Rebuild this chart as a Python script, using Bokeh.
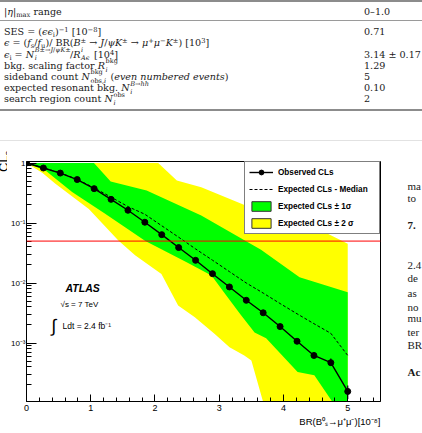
from bokeh.plotting import figure
from bokeh.models import Range1d, FixedTicker, Label, Legend, LegendItem, Span, Div, Title
from bokeh.layouts import column, row
from bokeh.embed import file_html
from bokeh.resources import INLINE

# ---------------- data ----------------
br_points = [0.0, 0.263, 0.526, 0.789, 1.053, 1.316, 1.579, 1.842, 2.105, 2.368,
             2.632, 2.895, 3.158, 3.421, 3.684, 3.947, 4.211, 4.474, 4.737, 5.0]
cls_observed = [1.0, 0.826, 0.68, 0.53, 0.374, 0.248, 0.163, 0.103, 0.064, 0.039,
                0.0239, 0.0143, 0.0086, 0.00515, 0.00319, 0.00188, 0.00107, 0.00062, 0.00047, 0.000156]
cls_obs_err_lo = [1.0, 0.826, 0.68, 0.53, 0.374, 0.248, 0.163, 0.103, 0.064, 0.039,
                  0.0239, 0.0143, 0.0086, 0.00515, 0.00319, 0.00188, 0.00100, 0.00058, 0.00042, 0.000117]
cls_obs_err_hi = [1.0, 0.826, 0.68, 0.53, 0.374, 0.248, 0.163, 0.103, 0.064, 0.039,
                  0.0239, 0.0143, 0.0086, 0.00515, 0.00319, 0.00188, 0.00114, 0.00070, 0.00055, 0.000196]
cls_exp_median = [1.0, 0.83, 0.685, 0.535, 0.385, 0.27, 0.188, 0.14, 0.09, 0.058,
                  0.037, 0.024, 0.0155, 0.0100, 0.0068, 0.00455, 0.00307, 0.0021, 0.00145, 0.00062]

# expected +-1 sigma band edges
band1_up_br = [0.0, 1.05, 1.31, 1.87, 2.72, 3.65, 4.25, 5.0]
band1_up = [1.0, 1.0, 0.49, 0.348, 0.133, 0.036, 0.0125, 0.0070]
band1_dn_br = [0.0, 0.3, 0.71, 1.23, 1.85, 2.5, 2.88, 3.11, 3.34, 3.55, 3.73, 4.22, 4.48, 4.76, 4.8, 5.0]
band1_dn = [1.0, 0.74, 0.33, 0.142, 0.05, 0.022, 0.0133, 0.0062, 0.0029, 0.0015, 0.0012,
            0.00033, 0.00029, 0.000105, 0.00001, 0.00001]
# expected +-2 sigma band edges
band2_up_br = [0.0, 2.05, 2.34, 2.72, 3.44, 4.69, 5.0]
band2_up = [1.0, 1.0, 0.51, 0.395, 0.19, 0.066, 0.045]
band2_dn_br = [0.0, 0.25, 0.45, 0.97, 1.43, 1.69, 2.10, 2.36, 2.62, 2.93, 3.16, 3.39, 3.50, 3.70, 5.0]
band2_dn = [1.0, 0.68, 0.45, 0.172, 0.051, 0.029, 0.0142, 0.0042, 0.00269, 0.00142, 0.00085,
            0.00062, 0.00051, 0.00009, 0.00001]
cls_limit = 0.05

x_major_ticks = [0, 1, 2, 3, 4, 5]
x_minor_ticks = [0.2, 0.4, 0.6, 0.8, 1.2, 1.4, 1.6, 1.8, 2.2, 2.4, 2.6, 2.8, 3.2, 3.4, 3.6, 3.8,
                 4.2, 4.4, 4.6, 4.8, 5.2, 5.4]
y_major_ticks = [0.001, 0.01, 0.1, 1.0]
y_major_labels = ["10⁻³", "10⁻²", "10⁻¹", "1"]
y_minor_ticks = [m * d for d in (1e-4, 1e-3, 1e-2, 1e-1) for m in (2, 3, 4, 5, 6, 7, 8, 9)]

legend_labels = ["Observed CLs", "Expected CLs - Median", "Expected CLs ± 1σ", "Expected CLs ± 2 σ"]
x_title = "BR(B⁰ₛ→μ⁺μ⁻)[10⁻⁸]"
y_title_html = 'CL<span style="font-size:0.7em;position:relative;top:0.3em">s</span>'


# ---- small HTML helpers for the table's math ----
def sp(t):
    return f'<span style="position:relative;top:-0.45em;font-size:0.7em">{t}</span>'


def sb(t):
    return f'<span style="position:relative;top:0.3em;font-size:0.7em">{t}</span>'


def supsub(sup, sub, w):
    return (f'<span style="position:relative;display:inline-block;width:{w}em;height:1px;'
            'font-size:0.68em;line-height:1;margin-left:0.1em">'
            f'<span style="position:absolute;left:0;bottom:0.6em;white-space:nowrap">{sup}</span>'
            f'<span style="position:absolute;left:0;bottom:-0.65em;white-space:nowrap">{sub}</span></span>')


table_quantities = [
    f'|<i>η</i>|{sb("max")} range',
    f'SES = (<i>ϵϵ</i>{sb("i")}){sp("−1")} [10{sp("−8")}]',
    f'<i>ϵ</i> = (<i>f</i>{sb("s")}/<i>f</i>{sb("u")})/ BR(<i>B</i>{sp("±")} → <i>J</i>/<i>ψK</i>{sp("±")}'
    f' → <i>μ</i>{sp("+")}<i>μ</i>{sp("−")}<i>K</i>{sp("±")}) [10{sp("3")}]',
    f'<i>ϵ</i>{sb("i")} = <i>N</i>' + supsub('<i>B</i>±→<i>J</i>/<i>ψK</i>±', '<i>i</i>', 5.4)
    + '/<i>R</i>' + supsub('<i>i</i>', '<i>Aϵ</i>', 1.5) + f' [10{sp("4")}]',
    'bkg. scaling factor <i>R</i>' + supsub('bkg', '<i>i</i>', 2.0),
    'sideband count <i>N</i>' + supsub('bkg', 'obs,<i>i</i>', 2.6) + ' (<i>even numbered events</i>)',
    'expected resonant bkg. <i>N</i>' + supsub('<i>B</i>→<i>hh</i>', '<i>i</i>', 3.0),
    'search region count <i>N</i>' + supsub('obs', '<i>i</i>', 1.9),
]
table_values = ["0–1.0", "0.71", "", "3.14 ± 0.17", "1.29", "5", "0.10", "2"]

body_fragments = ["ma", "to", "7.", "2.4", "de", "as", "no", "mu", "ter", "BR", "Ac"]
body_fragment_bold = [False, False, True, False, False, False, False, False, False, False, True]

# ---------------- table (top part of the page) ----------------
TABLE_H = 142
row_y = [11.7] + [32.3 + 11.15 * k for k in range(len(table_quantities) - 1)]
parts = [f'<div style="position:relative;width:422px;height:{TABLE_H}px;overflow:hidden;'
         'font-family:\'DejaVu Serif\';font-size:9.6px;color:#1a1a1a;background:white">']
parts.append('<div style="position:absolute;left:0;top:0;width:422px;height:2px;background:#8c8c8c"></div>')
parts.append('<div style="position:absolute;left:0;top:20px;width:422px;height:1px;background:#9a9a9a"></div>')
parts.append('<div style="position:absolute;left:0;top:109px;width:422px;height:2px;background:#8c8c8c"></div>')
parts.append('<div style="position:absolute;left:0;top:140px;width:422px;height:1px;background:#e2e2e2"></div>')
for yc, q, v in zip(row_y, table_quantities, table_values):
    parts.append(f'<div style="position:absolute;left:4px;top:{yc - 7:.1f}px;height:14px;line-height:14px;'
                 f'white-space:nowrap">{q}</div>')
    if v:
        parts.append(f'<div style="position:absolute;left:364px;top:{yc - 7:.1f}px;height:14px;line-height:14px;'
                     f'white-space:nowrap">{v}</div>')
parts.append('</div>')
table_div = Div(text="".join(parts), width=422, height=TABLE_H, margin=0)

# ---------------- CLs plot ----------------
PH = 291
p = figure(width=375, height=PH, x_range=Range1d(0, 5.51), y_range=Range1d(1.06e-4, 1.06),
           y_axis_type="log", output_backend="svg", toolbar_location=None,
           min_border_left=17, min_border_right=2, min_border_top=19, min_border_bottom=32)
p.grid.visible = False
p.outline_line_color = "black"
p.outline_line_width = 1
p.background_fill_color = "white"
p.border_fill_color = "white"

p.patch(band2_up_br + band2_dn_br[::-1], band2_up + band2_dn[::-1], fill_color="#ffff00", line_alpha=0)
p.patch(band1_up_br + band1_dn_br[::-1], band1_up + band1_dn[::-1], fill_color="#00ff00", line_alpha=0)

p.add_layout(Span(location=cls_limit, dimension="width", line_color="#ff0000", line_width=1))

r_med = p.line(br_points, cls_exp_median, line_color="black", line_width=1, line_dash="3 2")
p.segment(br_points, cls_obs_err_lo, br_points, cls_obs_err_hi, line_color="black", line_width=1.2)
r_obs_line = p.line(br_points, cls_observed, line_color="black", line_width=1.4)
r_obs_pts = p.scatter(br_points, cls_observed, size=6, fill_color="black", line_color="black")

# legend proxies (outside the visible x range, only used to draw bordered boxes in the legend)
leg_g = p.quad(left=[-1.0], right=[-0.5], top=[0.02], bottom=[0.01],
               fill_color="#00ff00", line_color="#333333", line_width=1)
leg_y = p.quad(left=[-1.0], right=[-0.5], top=[0.02], bottom=[0.01],
               fill_color="#ffff00", line_color="#333333", line_width=1)

legend = Legend(items=[
    LegendItem(label=legend_labels[0], renderers=[r_obs_line, r_obs_pts]),
    LegendItem(label=legend_labels[1], renderers=[r_med]),
    LegendItem(label=legend_labels[2], renderers=[leg_g]),
    LegendItem(label=legend_labels[3], renderers=[leg_y]),
], location="top_right", margin=0, padding=4, spacing=5, glyph_width=24, glyph_height=12,
    label_standoff=5, label_width=97, label_height=12,
    label_text_font="Liberation Sans", label_text_font_style="bold", label_text_font_size="8.2px",
    label_text_color="black", border_line_color="black", border_line_width=1,
    background_fill_color="white", background_fill_alpha=1.0)
p.add_layout(legend)

# axes
p.xaxis.ticker = FixedTicker(ticks=x_major_ticks, minor_ticks=x_minor_ticks)
p.yaxis.ticker = FixedTicker(ticks=y_major_ticks, minor_ticks=y_minor_ticks)
p.yaxis.major_label_overrides = {float(t): lab for t, lab in zip(y_major_ticks, y_major_labels)}
for ax in (p.xaxis[0], p.yaxis[0]):
    ax.axis_line_color = "black"
    ax.axis_line_width = 1
    ax.major_tick_line_color = "black"
    ax.minor_tick_line_color = "black"
    ax.major_tick_out = 0
    ax.minor_tick_out = 0
    ax.major_label_text_font = "Liberation Sans"
    ax.major_label_text_color = "black"
p.xaxis.major_label_text_font_size = "9px"
p.yaxis.major_label_text_font_size = "8px"
p.xaxis.major_label_standoff = 3
p.yaxis.major_label_standoff = 1
p.xaxis.major_tick_in = 7
p.xaxis.minor_tick_in = 4
p.yaxis.major_tick_in = 10
p.yaxis.minor_tick_in = 5

p.add_layout(Title(text=x_title, align="right", text_font="Liberation Sans", text_font_size="9.5px",
                   text_font_style="normal", text_color="black", standoff=0, offset=0), "below")


def add_label(fig, x, y, text, size, style="normal", font="Liberation Sans", align="left",
              baseline="middle", angle=0.0, color="black", units="screen"):
    fig.add_layout(Label(x=x, y=y, x_units=units, y_units=units, text=text,
                         text_font=font, text_font_size=size, text_font_style=style,
                         text_align=align, text_baseline=baseline, angle=angle, text_color=color))


# in-frame texts (screen units relative to the plot frame)
add_label(p, 39, 114, "ATLAS", "10.5px", style="bold italic")
add_label(p, 34, 97, "√s = 7 TeV", "8px")
add_label(p, 25, 76, "∫", "18px")
add_label(p, 36, 76, "Ldt = 2.4 fb⁻¹", "8.5px")

# left strip carrying the (cut-off) y axis title, rotated with CSS to read upwards
LW = 7
left_html = (f'<div style="position:relative;width:{LW}px;height:{PH}px;overflow:hidden;background:white">'
             f'<div style="position:absolute;left:-3px;top:{172 - TABLE_H}px;transform-origin:0 0;'
             'transform:rotate(-90deg);font-family:\'Liberation Sans\';font-size:13px;line-height:13px;'
             f'white-space:nowrap;color:black">{y_title_html}</div></div>')
left_strip = Div(text=left_html, width=LW, height=PH, margin=0)

# right strip carrying the cut-off fragments of the page's body text
RW = 422 - LW - 375
right_strip = figure(width=RW, height=PH, x_range=Range1d(0, RW), y_range=Range1d(0, PH),
                     min_border=0, toolbar_location=None, output_backend="svg",
                     x_axis_location=None, y_axis_location=None)
right_strip.grid.visible = False
right_strip.outline_line_color = None
body_y = [171.7, 186.7, 220.0, 268.3, 283.3, 301.7, 318.3, 331.7, 348.3, 365.0, 396.7]
for frag, bold, yy in zip(body_fragments, body_fragment_bold, body_y):
    add_label(right_strip, 407 - (LW + 375), PH - (yy - TABLE_H), frag, "11px",
              style="bold" if bold else "normal", font="Liberation Serif", color="#1a1a1a", units="data")

layout = column(table_div, row(left_strip, p, right_strip, spacing=0), spacing=0)
open("out.html", "w").write(file_html(layout, INLINE))
